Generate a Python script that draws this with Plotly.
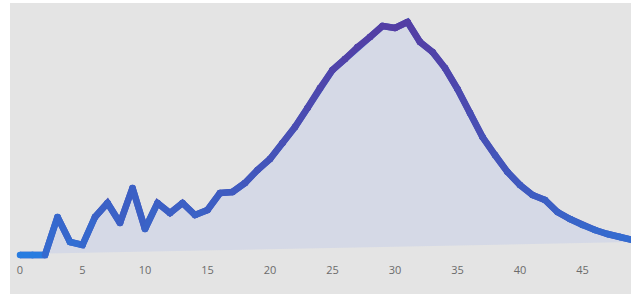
import plotly.graph_objects as go

x_vals = list(range(50))
y_vals = [0, 0, 0, 38, 13, 10, 38, 52, 32, 67,
          26, 52, 42, 52, 40, 45, 62, 63, 72, 85,
          96, 112, 128, 147, 167, 185, 196, 208, 218, 229,
          227, 233, 213, 203, 187, 166, 142, 118, 100, 83,
          70, 60, 55, 43, 36, 30, 25, 21, 18, 15]
base_x = [0, 49]
base_y = [1, 13]
tick_vals = [0, 5, 10, 15, 20, 25, 30, 35, 40, 45]

BLUE = (40, 124, 224)
PURPLE = (84, 62, 164)
vmax = max(y_vals)


def col(v):
    t = max(0.0, min(1.0, v / vmax)) ** 0.5
    c = [round(BLUE[k] + (PURPLE[k] - BLUE[k]) * t) for k in range(3)]
    return f"rgb({c[0]},{c[1]},{c[2]})"


fig = go.Figure()
fig.add_trace(go.Scatter(x=base_x, y=base_y, mode="lines",
                         line=dict(width=0, color="rgba(0,0,0,0)"),
                         hoverinfo="skip", showlegend=False))
fig.add_trace(go.Scatter(x=x_vals, y=y_vals, mode="lines", fill="tonexty",
                         fillcolor="#d5d9e6",
                         line=dict(width=0, color="rgba(0,0,0,0)"),
                         hoverinfo="skip", showlegend=False))
# underlying full line
fig.add_trace(go.Scatter(x=x_vals, y=y_vals, mode="lines",
                         line=dict(width=6.5, color=col(sum(y_vals) / len(y_vals))),
                         hoverinfo="skip", showlegend=False))
for i in range(len(x_vals) - 1):
    c = col((y_vals[i] + y_vals[i + 1]) / 2)
    fig.add_trace(go.Scatter(x=x_vals[i:i + 2], y=y_vals[i:i + 2],
                             mode="lines+markers",
                             line=dict(width=6.5, color=c),
                             marker=dict(size=6.5, color=c, line=dict(width=0)),
                             hoverinfo="skip", showlegend=False))

fig.add_shape(type="rect", xref="paper", yref="paper",
              x0=0, x1=1, y0=-40 / 259, y1=1, layer="below",
              fillcolor="#e4e4e4", line=dict(width=0))

fig.update_layout(
    width=631, height=294,
    margin=dict(l=10, r=0, t=3, b=32),
    paper_bgcolor="white", plot_bgcolor="#e4e4e4",
    xaxis=dict(range=[-0.8, 48.88], tickvals=tick_vals, showgrid=False,
               zeroline=False, showline=False, ticks="",
               tickfont=dict(family="Open Sans", size=11, color="#6b6b6b")),
    yaxis=dict(range=[-7, 252], showgrid=False, zeroline=False,
               showline=False, showticklabels=False, ticks=""),
    showlegend=False,
    hovermode=False,
)

fig.write_html("out.html", config={"displayModeBar": False, "staticPlot": True},
               post_script="document.body.style.margin='0';document.body.style.overflow='hidden';")
